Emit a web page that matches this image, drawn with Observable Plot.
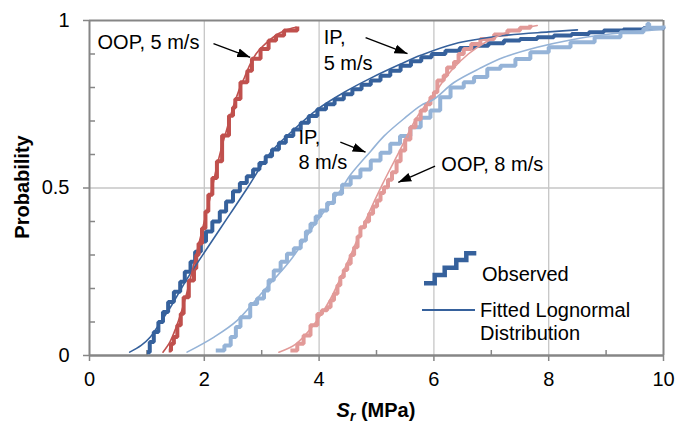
<!DOCTYPE html>
<html><head><meta charset="utf-8">
<script src="https://cdn.jsdelivr.net/npm/d3@7"></script>
<script src="https://cdn.jsdelivr.net/npm/@observablehq/plot@0.6"></script>
<style>body{margin:0;background:#fff;font-family:"Liberation Sans",Arial,sans-serif}</style>
</head><body><div id="chart"></div>
<script>
// Tick values
const xTicks = [0, 2, 4, 6, 8, 10];
const xMinor = [1, 3, 5, 7, 9];
const yTicks = [0, 0.5, 1];
const yMinor = [0.1, 0.2, 0.3, 0.4, 0.6, 0.7, 0.8, 0.9];

// Observed (empirical CDF) – [Sr (MPa), probability]
const oop5Obs = [[1.38,0.015],[1.42,0.035],[1.47,0.055],[1.53,0.09],[1.59,0.125],[1.64,0.174],[1.73,0.224],[1.82,0.26],[1.86,0.30],[1.90,0.334],[1.96,0.38],[2.02,0.43],[2.07,0.48],[2.14,0.53],[2.22,0.58],[2.31,0.657],[2.43,0.716],[2.50,0.74],[2.54,0.766],[2.63,0.816],[2.75,0.85],[2.83,0.886],[2.98,0.915],[3.12,0.94],[3.25,0.955],[3.39,0.97],[3.62,0.982]];
const ip5Obs = [[1.0,0.01],[1.05,0.04],[1.12,0.07],[1.20,0.10],[1.28,0.13],[1.37,0.16],[1.47,0.19],[1.58,0.22],[1.66,0.25],[1.76,0.28],[1.84,0.31],[1.94,0.34],[2.03,0.37],[2.14,0.40],[2.27,0.43],[2.38,0.46],[2.50,0.49],[2.62,0.515],[2.74,0.535],[2.85,0.555],[2.96,0.575],[3.07,0.595],[3.18,0.615],[3.30,0.635],[3.42,0.655],[3.55,0.675],[3.68,0.695],[3.82,0.715],[3.97,0.735],[4.12,0.75],[4.27,0.765],[4.43,0.78],[4.58,0.795],[4.74,0.808],[4.90,0.821],[5.07,0.835],[5.24,0.85],[5.42,0.865],[5.60,0.878],[5.78,0.89],[5.96,0.90],[6.2,0.91],[6.45,0.918],[6.7,0.925],[6.95,0.932],[7.22,0.94],[7.5,0.945],[7.8,0.95],[8.09,0.955],[8.4,0.96],[8.7,0.965],[8.96,0.97],[9.3,0.973],[9.65,0.977],[10.0,0.98]];
const ip8Obs = [[2.2,0.015],[2.35,0.03],[2.46,0.055],[2.55,0.085],[2.63,0.114],[2.80,0.154],[2.92,0.17],[3.04,0.194],[3.12,0.225],[3.21,0.254],[3.33,0.28],[3.44,0.304],[3.56,0.32],[3.68,0.343],[3.77,0.37],[3.85,0.393],[3.94,0.415],[4.02,0.433],[4.14,0.455],[4.26,0.483],[4.40,0.51],[4.55,0.532],[4.72,0.555],[4.90,0.582],[5.07,0.605],[5.24,0.632],[5.41,0.655],[5.59,0.681],[5.77,0.71],[5.94,0.731],[6.11,0.771],[6.29,0.80],[6.52,0.816],[6.70,0.831],[6.93,0.856],[7.16,0.865],[7.42,0.885],[7.68,0.905],[8.0,0.92],[8.38,0.935],[8.8,0.95],[9.25,0.965],[9.65,0.975],[9.72,0.99],[9.75,0.978],[10.0,0.985]];
const oop8Obs = [[3.5,0.015],[3.62,0.035],[3.73,0.06],[3.85,0.09],[3.97,0.124],[4.05,0.135],[4.14,0.144],[4.20,0.165],[4.26,0.184],[4.32,0.21],[4.37,0.234],[4.43,0.255],[4.49,0.274],[4.55,0.30],[4.61,0.323],[4.67,0.355],[4.72,0.383],[4.80,0.40],[4.87,0.423],[4.94,0.445],[5.01,0.463],[5.07,0.485],[5.13,0.502],[5.20,0.525],[5.27,0.547],[5.35,0.58],[5.42,0.612],[5.50,0.645],[5.59,0.681],[5.68,0.705],[5.77,0.731],[5.86,0.75],[5.94,0.771],[6.0,0.786],[6.06,0.821],[6.17,0.836],[6.23,0.86],[6.35,0.876],[6.43,0.90],[6.52,0.915],[6.65,0.93],[6.81,0.945],[7.05,0.958],[7.28,0.97],[7.5,0.978],[7.68,0.987]];

// Fitted lognormal curves
const oop5Fit = [[1.28,0.01],[1.4,0.04],[1.5,0.08],[1.6,0.13],[1.7,0.19],[1.8,0.26],[1.9,0.33],[2.0,0.40],[2.1,0.47],[2.2,0.55],[2.3,0.62],[2.4,0.68],[2.5,0.74],[2.6,0.79],[2.7,0.83],[2.8,0.87],[2.9,0.90],[3.0,0.92],[3.2,0.95],[3.4,0.97],[3.6,0.98]];
const ip5Fit = [[0.7,0.01],[0.9,0.03],[1.06,0.055],[1.2,0.09],[1.41,0.144],[1.6,0.2],[1.76,0.245],[2.05,0.32],[2.4,0.41],[2.75,0.5],[3.15,0.605],[3.5,0.665],[3.97,0.735],[4.43,0.785],[4.9,0.828],[5.42,0.87],[5.77,0.896],[6.35,0.93],[7.22,0.955],[8.0,0.966],[8.5,0.972]];
const ip8Fit = [[1.70,0.01],[2.17,0.055],[2.57,0.104],[3.04,0.194],[3.50,0.284],[3.97,0.403],[4.37,0.493],[4.55,0.54],[4.9,0.61],[5.13,0.655],[5.5,0.71],[5.77,0.746],[6.0,0.765],[6.35,0.815],[6.8,0.857],[7.22,0.89],[7.8,0.92],[8.38,0.942],[9.0,0.958],[9.83,0.972],[10,0.975]];
const oop8Fit = [[3.3,0.01],[3.6,0.035],[3.9,0.09],[4.2,0.17],[4.5,0.28],[4.8,0.4],[5.1,0.51],[5.4,0.61],[5.7,0.71],[6.0,0.78],[6.3,0.85],[6.6,0.9],[6.9,0.935],[7.2,0.96],[7.5,0.975],[7.8,0.985]];

// Annotations
const annText = ["OOP, 5 m/s", "IP,", "5 m/s", "IP,", "8 m/s", "OOP, 8 m/s"];
const annX = [0.14, 4.08, 4.08, 3.64, 3.64, 6.13];
const annY = [0.934, 0.949, 0.872, 0.651, 0.576, 0.57];
const arrX1 = [2.16, 4.81, 4.37, 6.02];
const arrY1 = [0.931, 0.949, 0.637, 0.565];
const arrX2 = [2.80, 5.54, 4.81, 5.38];
const arrY2 = [0.89, 0.901, 0.607, 0.517];

// Legend
const legendLabels = ["Observed", "Fitted Lognormal", "Distribution"];

const cDark = "#36619c", cRed = "#c0504d", cLight = "#95b3d7", cPink = "#e29a98";
const series = [
  {obs: ip5Obs, fit: ip5Fit, color: cDark},
  {obs: oop5Obs, fit: oop5Fit, color: cRed},
  {obs: ip8Obs, fit: ip8Fit, color: cLight},
  {obs: oop8Obs, fit: oop8Fit, color: cPink}
];

const arrows = arrX1.map((d, i) => ({x1: d, y1: arrY1[i], x2: arrX2[i], y2: arrY2[i]}));
const anns = annText.map((t, i) => ({t, x: annX[i], y: annY[i]}));

function tri(color) {
  const m = d3.create("svg:marker")
    .attr("viewBox", "-13 -5 13 10").attr("markerWidth", 13).attr("markerHeight", 10)
    .attr("markerUnits", "userSpaceOnUse").attr("orient", "auto").attr("fill", "black").attr("stroke", "none");
  m.append("path").attr("d", "M-13,-4.5L0,0L-13,4.5Z");
  return m.node();
}

const gray = "#868686";
const marks = [
  Plot.gridX([2, 4, 6, 8], {stroke: "#c6c6c6", strokeOpacity: 1, strokeWidth: 1.3}),
  Plot.gridY([0.5], {stroke: "#c6c6c6", strokeOpacity: 1, strokeWidth: 1.3}),
  Plot.ruleY([1], {stroke: gray, strokeWidth: 2}),
  Plot.ruleX([10], {stroke: gray, strokeWidth: 2}),
  Plot.axisX(xTicks, {anchor: "bottom", tickSize: 6, tickPadding: 10, fontSize: 20, stroke: gray, strokeWidth: 1.5, fill: "black", label: null}),
  Plot.axisX(xMinor, {anchor: "bottom", tickSize: -5, tickFormat: () => "", stroke: gray, strokeWidth: 1.5, label: null}),
  Plot.axisY(yTicks, {anchor: "left", tickSize: 6, tickPadding: 14, fontSize: 20, stroke: gray, strokeWidth: 1.5, fill: "black", label: null, tickFormat: d => String(d)}),
  Plot.axisY(yMinor, {anchor: "left", tickSize: -6, tickFormat: () => "", stroke: gray, strokeWidth: 1.5, label: null}),
  Plot.ruleY([0], {stroke: gray, strokeWidth: 2.5}),
  Plot.ruleX([0], {stroke: gray, strokeWidth: 2}),
];
for (const s of series) {
  marks.push(Plot.line(s.obs, {x: d => d[0], y: d => d[1], curve: "step-after", stroke: s.color, strokeWidth: 4, strokeLinejoin: "miter", strokeLinecap: "butt"}));
}
for (const s of series) {
  marks.push(Plot.line(s.fit, {x: d => d[0], y: d => d[1], curve: "catmull-rom", stroke: s.color, strokeWidth: 1.6}));
}
marks.push(Plot.text(anns, {x: "x", y: "y", text: "t", textAnchor: "start", lineAnchor: "middle", fontSize: 20, fill: "black"}));
marks.push(Plot.link(arrows, {x1: "x1", y1: "y1", x2: "x2", y2: "y2", stroke: "black", strokeWidth: 1.4, markerEnd: tri}));

const svg = Plot.plot({
  width: 678, height: 431,
  marginLeft: 89, marginRight: 15, marginTop: 20, marginBottom: 76,
  x: {domain: [0, 10]},
  y: {domain: [0, 1]},
  style: {fontFamily: "'Liberation Sans', Arial, sans-serif", background: "white", overflow: "visible"},
  marks
});

const s = d3.select(svg);
// axis titles
s.append("text").attr("transform", "translate(29,187) rotate(-90)").attr("text-anchor", "middle")
  .attr("font-size", 20).attr("font-weight", "bold").attr("fill", "black").text("Probability");
const xt = s.append("text").attr("x", 376).attr("y", 417).attr("text-anchor", "middle")
  .attr("font-size", 20).attr("font-weight", "bold").attr("fill", "black");
xt.append("tspan").attr("font-style", "italic").text("S");
xt.append("tspan").attr("font-style", "italic").attr("font-size", 14).attr("dy", 4).text("r");
xt.append("tspan").attr("dy", -4).text(" (MPa)");

// legend (drawn in pixel space, inside the plot frame)
const lg = s.append("g").attr("text-anchor", "start");
lg.append("path").attr("d", "M424,283.3H434.7V275H444.7V267.7H456.3V260H466.3V253.3H476.3")
  .attr("fill", "none").attr("stroke", cDark).attr("stroke-width", 4.5);
lg.append("path").attr("d", "M422,310H475").attr("fill", "none").attr("stroke", cDark).attr("stroke-width", 1.8);
lg.append("text").attr("x", 482).attr("y", 281).attr("font-size", 20).attr("fill", "black").attr("text-anchor", "start").text(legendLabels[0]);
lg.append("text").attr("x", 480).attr("y", 317).attr("font-size", 20).attr("fill", "black").attr("text-anchor", "start").text(legendLabels[1]);
lg.append("text").attr("x", 480).attr("y", 340).attr("font-size", 20).attr("fill", "black").attr("text-anchor", "start").text(legendLabels[2]);

document.getElementById("chart").appendChild(svg);
</script></body></html>
